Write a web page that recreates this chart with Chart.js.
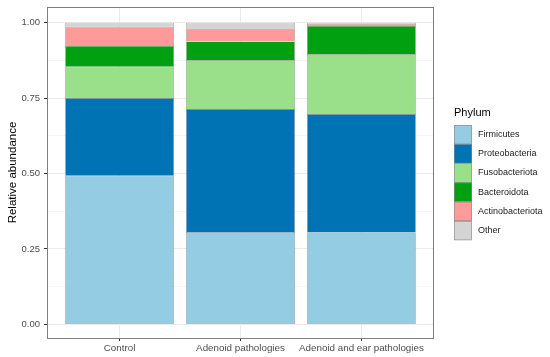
<!DOCTYPE html>
<html>
<head>
<meta charset="utf-8">
<script src="https://cdn.jsdelivr.net/npm/chart.js@4/dist/chart.umd.min.js"></script>
<style>
  html, body { margin: 0; padding: 0; background: #fff; }
  #wrap { width: 550px; height: 357px; position: relative; }
</style>
</head>
<body>
<div id="wrap"><canvas id="myChart" width="550" height="357"></canvas></div>
<script>
var groups = ["Control", "Adenoid pathologies", "Adenoid and ear pathologies"];
var phyla = ["Firmicutes", "Proteobacteria", "Fusobacteriota", "Bacteroidota", "Actinobacteriota", "Other"];
var colors = ["#94CDE3", "#0073B4", "#9ADF8A", "#00A011", "#FF9A9A", "#D4D4D4"];

var firmicutes = [0.493, 0.306, 0.305];
var proteobacteria = [0.257, 0.408, 0.392];
var fusobacteriota = [0.104, 0.162, 0.199];
var bacteroidota = [0.069, 0.062, 0.093];
var actinobacteriota = [0.064, 0.040, 0.007];
var other = [0.013, 0.022, 0.004];

var yTicks = [0, 0.25, 0.5, 0.75, 1];
var yMinor = [0.125, 0.375, 0.625, 0.875];

var series = [firmicutes, proteobacteria, fusobacteriota, bacteroidota, actinobacteriota, other];

var datasets = series.map(function (vals, i) {
  return {
    label: phyla[i],
    data: vals.map(function (v, j) { return { x: j + 1, y: v }; }),
    backgroundColor: colors[i],
    borderColor: "#8a8a8a",
    borderWidth: 0.6,
    barPercentage: 0.9,
    categoryPercentage: 1.0
  };
});

// panel border + hand drawn legend
var panelPlugin = {
  id: "panel",
  afterDraw: function (c) {
    var ctx = c.ctx, a = c.chartArea;
    ctx.save();
    ctx.strokeStyle = "#7f7f7f";
    ctx.lineWidth = 1;
    ctx.strokeRect(Math.round(a.left) + 0.5, Math.round(a.top) + 0.5, Math.round(a.right - a.left) - 1, Math.round(a.bottom - a.top));

    var lx = 454, ly = 125, kw = 18, kh = 19.2;
    ctx.fillStyle = "#000";
    ctx.font = "11px 'Liberation Sans', Arial, sans-serif";
    ctx.textBaseline = "middle";
    ctx.textAlign = "left";
    ctx.fillText("Phylum", lx, 113);
    ctx.font = "9px 'Liberation Sans', Arial, sans-serif";
    for (var i = 0; i < phyla.length; i++) {
      var y = ly + i * kh;
      ctx.fillStyle = colors[i];
      ctx.fillRect(lx, y, kw, kh);
      ctx.strokeStyle = "#8a8a8a";
      ctx.lineWidth = 0.6;
      ctx.strokeRect(lx + 0.3, y + 0.3, kw - 0.6, kh - 0.6);
      ctx.fillStyle = "#1a1a1a";
      ctx.fillText(phyla[i], lx + 24, y + kh / 2);
    }
    ctx.restore();
  }
};

var chart = document.getElementById("myChart").getContext("2d");
var myChart = new Chart(chart, {
  type: "bar",
  data: { datasets: datasets },
  options: {
    responsive: false,
    animation: false,
    layout: { padding: { top: 7, right: 116, left: 0, bottom: 0 } },
    plugins: { legend: { display: false }, tooltip: { enabled: false } },
    scales: {
      x: {
        type: "linear",
        stacked: true,
        offset: false,
        min: 0.4,
        max: 3.6,
        afterBuildTicks: function (s) { s.ticks = [{ value: 1 }, { value: 2 }, { value: 3 }]; },
        afterFit: function (s) { s.height = 19; s.paddingLeft = 0; s.paddingRight = 0; },
        ticks: {
          padding: 1,
          color: "#4d4d4d",
          font: { size: 9.8, family: "'Liberation Sans', Arial, sans-serif" },
          callback: function (v) { return groups[v - 1]; }
        },
        grid: { offset: false, color: "#ebebeb", tickColor: "#333", tickLength: 3 },
        border: { display: false }
      },
      y: {
        stacked: true,
        min: -0.045,
        max: 1.052,
        afterBuildTicks: function (s) {
          s.ticks = yTicks.concat(yMinor).sort(function (a, b) { return a - b; }).map(function (v) { return { value: v }; });
        },
        afterFit: function (s) { s.width = 47; s.paddingTop = 0; s.paddingBottom = 0; },
        ticks: {
          padding: 4,
          color: "#4d4d4d",
          font: { size: 9.5, family: "'Liberation Sans', Arial, sans-serif" },
          callback: function (v) { return yTicks.indexOf(v) >= 0 ? v.toFixed(2) : ""; }
        },
        grid: {
          color: function (ctx) { return yTicks.indexOf(ctx.tick.value) >= 0 ? "#ebebeb" : "#f5f5f5"; },
          tickColor: function (ctx) { return yTicks.indexOf(ctx.tick.value) >= 0 ? "#333" : "rgba(0,0,0,0)"; },
          tickLength: 3
        },
        border: { display: false },
        title: {
          display: true,
          text: "Relative abundance",
          color: "#000",
          padding: { top: 6, bottom: 2 },
          font: { size: 11.5, family: "'Liberation Sans', Arial, sans-serif" }
        }
      }
    }
  },
  plugins: [panelPlugin]
});
</script>
</body>
</html>
